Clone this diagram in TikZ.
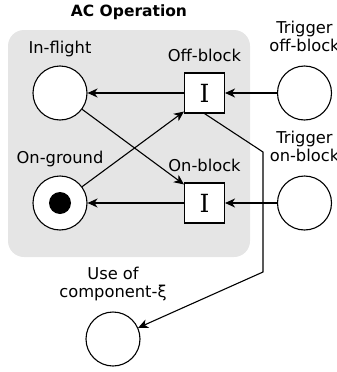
\documentclass[tikz,border=0pt]{standalone}
\usepackage{fontspec}
\setmainfont{DejaVu Sans}
\newfontfamily\transfont{DejaVu Serif}
\usetikzlibrary{positioning, arrows.meta}

\begin{document}
\begin{tikzpicture}[
    x=1pt, y=-1pt,
    font=\fontsize{16.3}{18}\selectfont,
    line width=1.1pt,
    place/.style={circle, draw=black, fill=white, minimum size=54pt, inner sep=0pt},
    trans/.style={rectangle, draw=black, fill=white, minimum width=40pt,
        minimum height=40pt, inner sep=0pt, font=\transfont\fontsize{25}{25}\selectfont},
    token/.style={circle, fill=black, minimum size=22pt, inner sep=0pt},
    lbl/.style={inner sep=0pt, align=center},
    arc/.style={-{Stealth[length=10pt, width=9pt, inset=3pt]}},
]
\useasboundingbox (0,0) rectangle (337,372);

% ---- Operation box and title ----
\node[rectangle, rounded corners=16pt, fill=black!10, minimum width=242pt,
    minimum height=227pt, inner sep=0pt] (acbox) at (129,143.5) {};
\node[lbl, font=\fontsize{15.5}{18}\selectfont\bfseries, above=9pt of acbox] (title) {AC Operation};

% ---- Places and transitions ----
\node[place] (inflight) at (60,93) {};
\node[place] (onground) at (60,203) {};
\node[token] (tok) at (onground) {};
\node[trans] (offblock) at (204.5,93) {I};
\node[trans] (onblock) at (204.5,203) {I};
\node[place] (trigoff) at (304.5,93) {};
\node[place] (trigon) at (304.5,203) {};
\node[place] (use) at (113,339) {};

% ---- Labels ----
\node[lbl, above=8.5pt of inflight] (inflightlbl) {In-flight};
\node[lbl, above=8.5pt of onground] (ongroundlbl) {On-ground};
\node[lbl, above=10.5pt of offblock] (offblocklbl) {Off-block};
\node[lbl, above=10.5pt of onblock] (onblocklbl) {On-block};
\node[lbl, above=13.5pt of trigoff] (trigofflbl) {Trigger\\off-block};
\node[lbl, above=13.5pt of trigon] (trigonlbl) {Trigger\\on-block};
\node[lbl, above=10pt of use] (uselbl) {Use of\\component-ξ};

% ---- Arcs ----
\draw[arc] (trigoff) -- (offblock);
\draw[arc] (offblock) -- (inflight);
\draw[arc] (trigon) -- (onblock);
\draw[arc] (onblock) -- (onground);
\draw[arc] (inflight) -- ([yshift=-2pt]onblock.north west);
\draw[arc] (onground) -- ([yshift=2pt]offblock.south west);

\coordinate (bendtop) at (263,152);
\coordinate (bendbot) at (263,272);
\draw[arc] (offblock.south) -- (bendtop) -- (bendbot) -- (use);

\end{tikzpicture}
\end{document}
